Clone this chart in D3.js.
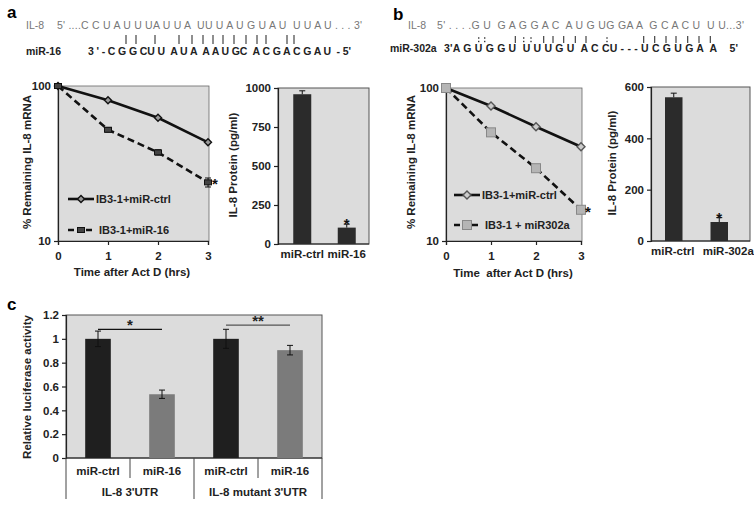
<!DOCTYPE html>
<html><head><meta charset="utf-8">
<script src="https://cdn.jsdelivr.net/npm/d3@7"></script>
<style>
body{margin:0;background:#fff;}
text{font-family:"Liberation Sans",Arial,sans-serif;}
</style></head>
<body>
<svg id="fig" width="754" height="505"></svg>
<script>
// ---------------- DATA ----------------
const timePoints = [0, 1, 2, 3];
const aCtrl = [100, 81, 62.4, 43.3];
const aCtrlErr = [0, 1.2, 1.2, 1.2];
const aMiR16 = [100, 52.2, 37.3, 23.9];
const aMiR16Err = [0, 1.8, 1.5, 1.6];
const aSeriesNames = ["IB3-1+miR-ctrl", "IB3-1+miR-16"];
const aProteinCats = ["miR-ctrl", "miR-16"];
const aProtein = [960, 105];
const aProteinErr = [22, 22];
const aProteinTicks = [0, 250, 500, 750, 1000];

const bCtrl = [100, 76.3, 55.8, 41.3];
const bMiR302a = [100, 51.3, 29.9, 16];
const bSeriesNames = ["IB3-1+miR-ctrl", "IB3-1 + miR302a"];
const bProteinCats = ["miR-ctrl", "miR-302a"];
const bProtein = [560, 74];
const bProteinErr = [16, 17];
const bProteinTicks = [0, 200, 400, 600];

const logTicks = [10, 100];

const cCats = ["miR-ctrl", "miR-16", "miR-ctrl", "miR-16"];
const cGroups = ["IL-8 3'UTR", "IL-8 mutant 3'UTR"];
const cValues = [1.0, 0.535, 1.0, 0.905];
const cErr = [0.065, 0.035, 0.08, 0.04];
const cTicks = [0, 0.2, 0.4, 0.6, 0.8, 1, 1.2];

const seqA = {
  il8Label: "IL-8",
  il8: "5' ....C C U A U U UA U U A  UU U A U G U A U  U U A U . . . 3'",
  mirLabel: "miR-16",
  mir: "3 ' - C G G CU U  A U A  A A U GC  A C G A C G A U  - 5'",
  pairs: ["|","|","|","|","|","|","|","|","|","|","|","|","|","|"]
};
const seqB = {
  il8Label: "IL-8",
  il8: "5' . . . .G U  G A G G A C  A U G UG GA A  G C A C U  U U...3'",
  mirLabel: "miR-302a",
  mir: "3'A G U G G U  U U U G U  A C CU - - - U C G U G A  A    5'",
  pairs: [":",":","|",":",":","|","|","|","|","|",":","|","|","|","|","|","|","|"]
};

// ---------------- DRAW ----------------
const svg = d3.select("#fig");
const BG = "#dcdcdc";

function panelLabel(t, x, y) {
  svg.append("text").attr("x", x).attr("y", y).attr("font-size", 17).attr("font-weight", "bold").text(t);
}
panelLabel("a", 7, 18);
panelLabel("b", 393, 20);
panelLabel("c", 7, 310);

// sequences
function seqBlock(s, o) {
  const g = svg.append("g");
  g.append("text").attr("x", o.lx).attr("y", o.y1).attr("font-size", 10.5).attr("fill", "#777").text(s.il8Label);
  g.append("text").attr("x", o.sx1).attr("y", o.y1).attr("font-size", 10.5).attr("fill", "#777")
    .attr("textLength", o.sw1).attr("lengthAdjust", "spacing").style("white-space", "pre").text(s.il8);
  g.append("text").attr("x", o.mx).attr("y", o.y2).attr("font-size", 10.5).attr("font-weight", "bold").attr("fill", "#222").text(s.mirLabel);
  g.append("text").attr("x", o.sx2).attr("y", o.y2).attr("font-size", 10.5).attr("font-weight", "bold").attr("fill", "#222")
    .attr("textLength", o.sw2).attr("lengthAdjust", "spacing").style("white-space", "pre").text(s.mir);
  s.pairs.forEach((d, i) => {
    const px = o.px[i];
    if (d === "|") {
      g.append("line").attr("x1", px).attr("x2", px).attr("y1", o.pt).attr("y2", o.pb).attr("stroke", "#333").attr("stroke-width", 1.1);
    } else {
      [o.pt + 2, o.pb - 1.5].forEach(cy => g.append("rect").attr("x", px - 0.7).attr("y", cy - 0.7).attr("width", 1.4).attr("height", 1.4).attr("fill", "#333"));
    }
  });
}
seqBlock(seqA, {lx: 26, sx1: 57, sw1: 305, y1: 29, mx: 26, sx2: 88, sw2: 263, y2: 55, pt: 35, pb: 44,
  px: [126,136,155,179,192,203,213,223,234,246,257,266,287,294]});
seqBlock(seqB, {lx: 408, sx1: 437, sw1: 307, y1: 29, mx: 390, sx2: 444, sw2: 294, y2: 52, pt: 36, pb: 43,
  px: [478.7,484.7,515.3,523.7,531,543.7,553,563.7,575.3,586,607,643.7,654.7,666,676,687.7,699,710.3]});

// --------- line chart ----------
function lineChart(o) {
  const g = svg.append("g");
  const x = d3.scaleLinear().domain([0, 3]).range([o.x0, o.x1]);
  const y = d3.scaleLog().domain([10, 100]).range([o.yb, o.yt]);
  g.append("rect").attr("x", o.x0).attr("y", o.yt).attr("width", o.x1 - o.x0 + 1).attr("height", o.yb - o.yt)
    .attr("fill", BG).attr("stroke", "#666").attr("stroke-width", 0.8);
  const ya = g.append("g").attr("transform", `translate(${o.x0},0)`)
    .call(d3.axisLeft(y).tickValues(logTicks).tickFormat(d3.format("d")).tickSize(4));
  const xa = g.append("g").attr("transform", `translate(0,${o.yb})`)
    .call(d3.axisBottom(x).tickValues(timePoints).tickFormat(d3.format("d")).tickSize(4));
  [ya, xa].forEach(a => {
    a.select(".domain").attr("stroke", "#222").attr("stroke-width", 1.2);
    a.selectAll(".tick line").attr("stroke", "#222").attr("stroke-width", 1.2);
    a.selectAll("text").attr("font-size", 11.5).attr("font-weight", "bold").attr("fill", "#222")
      .attr("font-family", "Liberation Sans, Arial, sans-serif");
  });
  xa.selectAll("text").attr("dy", "1.05em");
  g.append("text").attr("transform", `translate(${o.ytx},${o.ytyc}) rotate(-90)`).attr("text-anchor", "middle")
    .attr("font-size", 11.5).attr("font-weight", "bold").attr("fill", "#222").text("% Remaining IL-8 mRNA");
  g.append("text").attr("x", o.xtx).attr("y", o.xty).attr("text-anchor", "middle").style("white-space", "pre")
    .attr("font-size", 11.5).attr("font-weight", "bold").attr("fill", "#222").text(o.xTitle);

  const line = d3.line().x((d, i) => x(timePoints[i])).y(d => y(d));
  g.append("path").attr("d", line(o.s2)).attr("fill", "none").attr("stroke", "#111").attr("stroke-width", 2.6)
    .attr("stroke-dasharray", "7,4");
  g.append("path").attr("d", line(o.s1)).attr("fill", "none").attr("stroke", "#111").attr("stroke-width", 2.6);
  if (o.e2) {
    o.s2.forEach((v, i) => {
      if (!o.e2[i]) return;
      const cx = x(timePoints[i]);
      g.append("line").attr("x1", cx).attr("x2", cx).attr("y1", y(v + o.e2[i])).attr("y2", y(v - o.e2[i])).attr("stroke", "#111").attr("stroke-width", 1);
      [v + o.e2[i], v - o.e2[i]].forEach(vv => g.append("line").attr("x1", cx - 3).attr("x2", cx + 3).attr("y1", y(vv)).attr("y2", y(vv)).attr("stroke", "#111").attr("stroke-width", 1));
    });
  }
  const dia = (cx, cy, r) => `M${cx},${cy - r}L${cx + r},${cy}L${cx},${cy + r}L${cx - r},${cy}Z`;
  o.s1.forEach((v, i) => {
    g.append("path").attr("d", dia(x(timePoints[i]), y(v), o.dr)).attr("fill", o.m1fill).attr("stroke", o.m1stroke).attr("stroke-width", 1.4);
  });
  o.s2.forEach((v, i) => {
    g.append("rect").attr("x", x(timePoints[i]) - o.sw / 2).attr("y", y(v) - o.sh / 2).attr("width", o.sw).attr("height", o.sh)
      .attr("fill", o.m2fill).attr("stroke", o.m2stroke).attr("stroke-width", 1);
  });
  g.append("text").attr("x", x(3) + 4).attr("y", y(o.s2[3]) + 7).attr("font-size", 15).attr("font-weight", "bold").attr("fill", "#111").text("*");
  const L = o.leg;
  g.append("line").attr("x1", L.x0).attr("x2", L.x1).attr("y1", L.y1).attr("y2", L.y1).attr("stroke", "#111").attr("stroke-width", 2.6);
  g.append("path").attr("d", dia((L.x0 + L.x1) / 2, L.y1, o.dr)).attr("fill", o.m1fill).attr("stroke", o.m1stroke).attr("stroke-width", 1.4);
  g.append("text").attr("x", L.x1 + 2).attr("y", L.y1 + 4).attr("font-size", 11).attr("font-weight", "bold").attr("fill", "#222").text(o.names[0]);
  g.append("line").attr("x1", L.x0).attr("x2", L.x1).attr("y1", L.y2).attr("y2", L.y2).attr("stroke", "#111").attr("stroke-width", 2.6).attr("stroke-dasharray", "6,3");
  g.append("rect").attr("x", (L.x0 + L.x1) / 2 - o.sw / 2).attr("y", L.y2 - o.sh / 2).attr("width", o.sw).attr("height", o.sh)
    .attr("fill", o.m2fill).attr("stroke", o.m2stroke).attr("stroke-width", 1);
  g.append("text").attr("x", L.x1 + 5).attr("y", L.y2 + 4).attr("font-size", 11).attr("font-weight", "bold").attr("fill", "#222").style("white-space", "pre").text(o.names[1]);
}

lineChart({x0: 58, x1: 208, yt: 86, yb: 241, s1: aCtrl, s2: aMiR16, e2: aMiR16Err,
  ytx: 31, ytyc: 162, xtx: 132, xty: 276, xTitle: "Time after Act D (hrs)",
  dr: 3.5, m1fill: "#999", m1stroke: "#111", sw: 7, sh: 5, m2fill: "#444", m2stroke: "#111",
  names: aSeriesNames, leg: {x0: 68, x1: 94, y1: 199, y2: 230}});
lineChart({x0: 446, x1: 581, yt: 88, yb: 241, s1: bCtrl, s2: bMiR302a, e2: null,
  ytx: 415, ytyc: 162, xtx: 513, xty: 277, xTitle: "Time  after Act D (hrs)",
  dr: 4, m1fill: "#ccc", m1stroke: "#555", sw: 9, sh: 9, m2fill: "#b5b5b5", m2stroke: "#888",
  names: bSeriesNames, leg: {x0: 454, x1: 480, y1: 195, y2: 225}});

// --------- protein bar chart ----------
function barChart(o) {
  const g = svg.append("g");
  const x = d3.scaleBand().domain(o.cats).range([o.bx0, o.bx1]);
  const y = d3.scaleLinear().domain([0, o.max]).range([o.yb, o.yt]);
  g.append("rect").attr("x", o.x0).attr("y", o.yt).attr("width", o.x1 - o.x0).attr("height", o.yb - o.yt)
    .attr("fill", BG).attr("stroke", "#555").attr("stroke-width", 1);
  const ya = g.append("g").attr("transform", `translate(${o.x0},0)`)
    .call(d3.axisLeft(y).tickValues(o.ticks).tickFormat(d3.format("d")).tickSize(4));
  ya.select(".domain").attr("stroke", "#222").attr("stroke-width", 1.2);
  ya.selectAll(".tick line").attr("stroke", "#222").attr("stroke-width", 1.2);
  ya.selectAll("text").attr("font-size", 11.5).attr("font-weight", "bold").attr("fill", "#222").attr("font-family", "Liberation Sans, Arial, sans-serif");
  g.append("line").attr("x1", o.x0).attr("x2", o.x1).attr("y1", o.yb).attr("y2", o.yb).attr("stroke", "#222").attr("stroke-width", 1.2);
  const bw = o.barW;
  o.vals.forEach((v, i) => {
    const cx = x(o.cats[i]) + x.bandwidth() / 2;
    g.append("rect").attr("x", cx - bw / 2).attr("y", y(v)).attr("width", bw).attr("height", o.yb - y(v)).attr("fill", "#2b2b2b");
    const e = o.errs[i];
    g.append("line").attr("x1", cx).attr("x2", cx).attr("y1", y(v + e)).attr("y2", y(v)).attr("stroke", "#111").attr("stroke-width", 1);
    g.append("line").attr("x1", cx - 3).attr("x2", cx + 3).attr("y1", y(v + e)).attr("y2", y(v + e)).attr("stroke", "#111").attr("stroke-width", 1);
    g.append("text").attr("x", cx + o.labShift[i]).attr("y", o.xly).attr("text-anchor", "middle").attr("font-size", 11.5).attr("font-weight", "bold").attr("fill", "#222").text(o.cats[i]);
    if (i === 1) g.append("text").attr("x", cx).attr("y", y(v + e) + 5).attr("text-anchor", "middle").attr("font-size", 15).attr("font-weight", "bold").attr("fill", "#111").text("*");
  });
  g.append("text").attr("transform", `translate(${o.ytx},${o.ytyc}) rotate(-90)`).attr("text-anchor", "middle")
    .attr("font-size", 11.5).attr("font-weight", "bold").attr("fill", "#222").text("IL-8 Protein (pg/ml)");
}
barChart({x0: 278, x1: 369, bx0: 280, bx1: 369, yt: 88, yb: 244, max: 1000, ticks: aProteinTicks, cats: aProteinCats,
  vals: aProtein, errs: aProteinErr, barW: 18, xly: 258, ytx: 237, ytyc: 165, labShift: [0, 0]});
barChart({x0: 651, x1: 750, bx0: 651, bx1: 742, yt: 87, yb: 241, max: 600, ticks: bProteinTicks, cats: bProteinCats,
  vals: bProtein, errs: bProteinErr, barW: 17.5, xly: 255, ytx: 616, ytyc: 163, labShift: [-1, 9]});

// --------- panel c ----------
(function () {
  const x0 = 66, x1 = 322, yt = 315, yb = 458;
  const g = svg.append("g");
  const idx = cCats.map((d, i) => i);
  const x = d3.scaleBand().domain(idx).range([x0, x1]);
  const y = d3.scaleLinear().domain([0, 1.2]).range([yb, yt]);
  g.append("rect").attr("x", x0).attr("y", yt).attr("width", x1 - x0).attr("height", yb - yt)
    .attr("fill", BG).attr("stroke", "#555").attr("stroke-width", 1);
  const ya = g.append("g").attr("transform", `translate(${x0},0)`)
    .call(d3.axisLeft(y).tickValues(cTicks).tickFormat(d => d3.format("~g")(d)).tickSize(4));
  ya.select(".domain").attr("stroke", "#222").attr("stroke-width", 1.2);
  ya.selectAll(".tick line").attr("stroke", "#222").attr("stroke-width", 1.2);
  ya.selectAll("text").attr("font-size", 11.5).attr("font-weight", "bold").attr("fill", "#222").attr("font-family", "Liberation Sans, Arial, sans-serif");
  g.append("line").attr("x1", x0).attr("x2", x1).attr("y1", yb).attr("y2", yb).attr("stroke", "#222").attr("stroke-width", 1.2);
  const bw = x.bandwidth() * 0.4;
  cValues.forEach((v, i) => {
    const cx = x(i) + x.bandwidth() / 2;
    g.append("rect").attr("x", cx - bw / 2).attr("y", y(v)).attr("width", bw).attr("height", yb - y(v))
      .attr("fill", i % 2 === 0 ? "#1f1f1f" : "#7b7b7b");
    const e = cErr[i];
    g.append("line").attr("x1", cx).attr("x2", cx).attr("y1", y(v + e)).attr("y2", y(v - e)).attr("stroke", "#111").attr("stroke-width", 1);
    [v + e, v - e].forEach(vv => g.append("line").attr("x1", cx - 3).attr("x2", cx + 3).attr("y1", y(vv)).attr("y2", y(vv)).attr("stroke", "#111").attr("stroke-width", 1));
    g.append("text").attr("x", cx).attr("y", 475).attr("text-anchor", "middle").attr("font-size", 11.5).attr("font-weight", "bold").attr("fill", "#222").text(cCats[i]);
  });
  [1, 3].forEach(i => g.append("line").attr("x1", x(i)).attr("x2", x(i)).attr("y1", yb).attr("y2", 478).attr("stroke", "#444").attr("stroke-width", 1));
  [0, 2, 4].forEach(i => {
    const xx = i < 4 ? x(i) : x1;
    g.append("line").attr("x1", xx).attr("x2", xx).attr("y1", yb).attr("y2", 499).attr("stroke", "#444").attr("stroke-width", 1);
  });
  cGroups.forEach((t, gi) => {
    const cx = (x(gi * 2) + x(gi * 2 + 1) + x.bandwidth()) / 2;
    g.append("text").attr("x", cx).attr("y", 496).attr("text-anchor", "middle").attr("font-size", 11.5).attr("font-weight", "bold").attr("fill", "#222").text(t);
  });
  const sig = [{a: 0, b: 1, yv: 1.08, t: "*"}, {a: 2, b: 3, yv: 1.115, t: "**"}];
  sig.forEach(s => {
    const xa = x(s.a) + x.bandwidth() / 2, xb = x(s.b) + x.bandwidth() / 2;
    g.append("line").attr("x1", xa).attr("x2", xb).attr("y1", y(s.yv)).attr("y2", y(s.yv)).attr("stroke", s.a === 0 ? "#111" : "#555").attr("stroke-width", 1.2);
    g.append("text").attr("x", (xa + xb) / 2).attr("y", y(s.yv) + 1).attr("text-anchor", "middle").attr("font-size", 15).attr("font-weight", "bold").attr("fill", "#222").text(s.t);
  });
  g.append("text").attr("transform", `translate(31,387) rotate(-90)`).attr("text-anchor", "middle")
    .attr("font-size", 11.5).attr("font-weight", "bold").attr("fill", "#222").text("Relative luciferase activity");
})();
</script>
</body></html>
